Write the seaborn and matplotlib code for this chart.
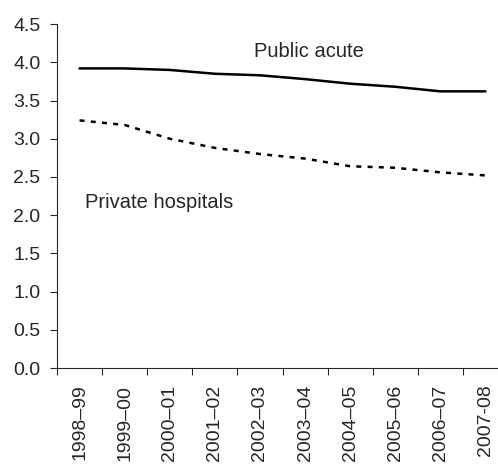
import pandas as pd
import numpy as np
import matplotlib
matplotlib.use("Agg")
import matplotlib.pyplot as plt
import seaborn as sns

# data
years = ["1998–99", "1999–00", "2000–01", "2001–02", "2002–03",
         "2003–04", "2004–05", "2005–06", "2006–07", "2007-08"]
public_acute = [3.92, 3.92, 3.90, 3.85, 3.83, 3.78, 3.72, 3.68, 3.62, 3.62]
private_hosp = [3.24, 3.18, 3.00, 2.88, 2.80, 2.74, 2.64, 2.62, 2.56, 2.52]

df = pd.DataFrame({
    "pos": list(range(len(years))) * 2,
    "value": public_acute + private_hosp,
    "series": ["Public acute"] * len(years) + ["Private hospitals"] * len(years),
})

sns.set_style("ticks")
plt.rcParams["font.family"] = ["Liberation Sans", "DejaVu Sans"]

fig = plt.figure(figsize=(4.98, 4.66), dpi=100)
ax = fig.add_axes([0.1145, 0.2103, 0.9056, 0.738])

sns.lineplot(data=df, x="pos", y="value", hue="series", style="series",
             palette={"Public acute": "black", "Private hospitals": "black"},
             dashes={"Public acute": "", "Private hospitals": (2, 2.5)},
             linewidth=1.8, legend=False, ax=ax)

ax.set_xlim(-0.5, 9.5)
ax.set_ylim(0, 4.5)
yt = np.arange(0, 4.51, 0.5)
ax.set_yticks(yt)
ax.set_yticklabels([f"{v:.1f}" for v in yt], fontsize=14)
ax.set_xticks(range(len(years)))
ax.set_xticklabels(years, rotation=90, fontsize=14)
ax.set_xticks(np.arange(-0.5, 9.6, 1), minor=True)
ax.tick_params(axis="x", which="major", length=0, pad=12)
ax.tick_params(axis="x", which="minor", length=5, width=0.8, direction="out")
ax.tick_params(axis="y", length=5, width=0.8, pad=7)
ax.set_xlabel("")
ax.set_ylabel("")
for s in ["top", "right"]:
    ax.spines[s].set_visible(False)
for s in ["left", "bottom"]:
    ax.spines[s].set_linewidth(0.8)

ax.text(3.86, 4.07, "Public acute", fontsize=14.5, va="baseline", ha="left")
ax.text(0.13, 2.09, "Private hospitals", fontsize=14.5, va="baseline", ha="left")

fig.savefig("out.png", dpi=100)
